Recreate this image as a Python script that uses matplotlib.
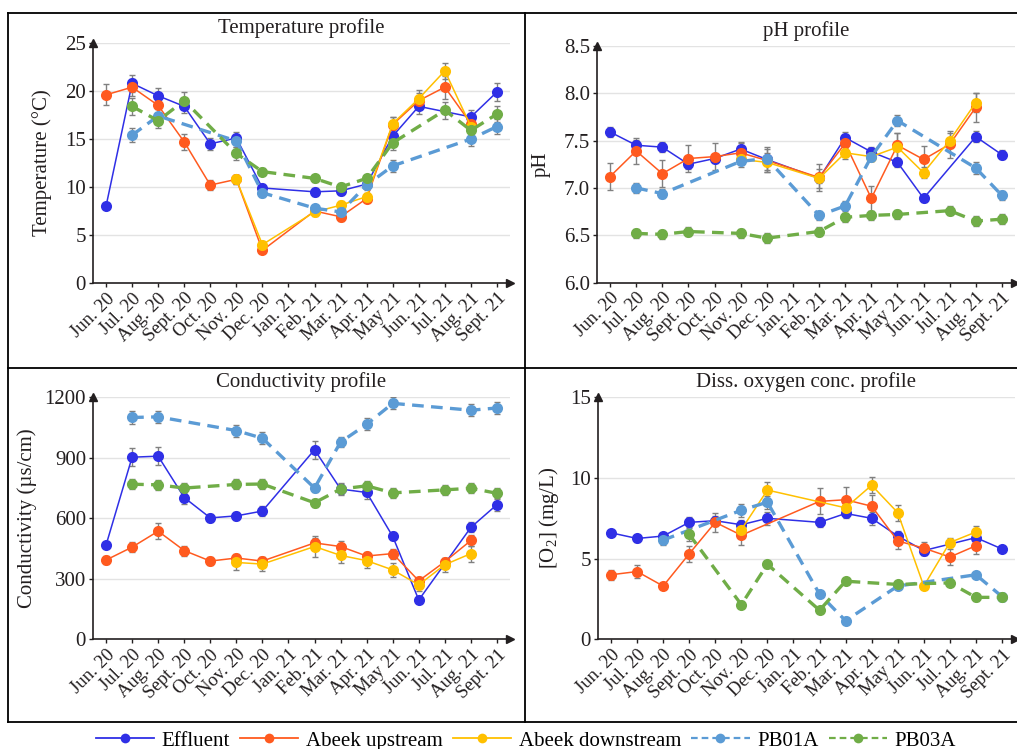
import numpy as np
import matplotlib
matplotlib.use("Agg")
import matplotlib.pyplot as plt
from matplotlib.lines import Line2D

plt.rcParams['font.family'] = ['Liberation Serif', 'DejaVu Serif']
plt.rcParams['mathtext.default'] = 'regular'

nan = np.nan
months = ["Jun. 20", "Jul. 20", "Aug. 20", "Sept. 20", "Oct. 20", "Nov. 20", "Dec. 20", "Jan. 21",
          "Feb. 21", "Mar. 21", "Apr. 21", "May 21", "Jun. 21", "Jul. 21", "Aug. 21", "Sept. 21"]
series_names = ["Effluent", "Abeek upstream", "Abeek downstream", "PB01A", "PB03A"]

# ---------------- Temperature ----------------
temp_eff = [8.0, 20.8, 19.5, 18.4, 14.5, 15.1, 9.9, nan, 9.5, 9.6, 10.3, 15.3, 18.4, nan, 17.3, 19.9]
temp_up = [19.6, 20.4, 18.5, 14.7, 10.2, 10.8, 3.4, nan, 7.5, 6.9, 8.8, 16.5, 19.0, 20.4, 16.6, nan]
temp_down = [nan, nan, nan, nan, nan, 10.8, 4.0, nan, 7.4, 8.1, 9.0, 16.6, 19.2, 22.1, 16.3, nan]
temp_pb01 = [nan, 15.4, 17.4, nan, nan, 14.8, 9.4, nan, 7.8, 7.4, 10.2, 12.2, nan, nan, 15.0, 16.3]
temp_pb03 = [nan, 18.4, 16.9, 19.0, nan, 13.5, 11.6, nan, 10.9, 10.0, 10.9, 14.6, nan, 18.0, 15.9, 17.6]
temp_eff_err = [0.3, 0.9, 0.8, 0.7, 0.6, 0.6, 0.4, nan, 0.4, 0.4, 0.5, 0.9, 0.8, nan, 0.7, 0.9]
temp_up_err = [1.1, 0.9, 0.8, 0.8, 0.5, 0.5, 0.3, nan, 0.4, 0.4, 0.4, 0.8, 0.8, 1.2, 0.8, nan]
temp_down_err = [nan, nan, nan, nan, nan, 0.5, 0.4, nan, 0.4, 0.4, 0.4, 0.7, 0.9, 0.8, 0.7, nan]
temp_pb01_err = [nan, 0.7, 0.7, nan, nan, 0.6, 0.4, nan, 0.3, 0.3, 0.5, 0.6, nan, nan, 0.7, 0.8]
temp_pb03_err = [nan, 0.9, 0.8, 0.9, nan, 0.7, 0.4, nan, 0.4, 0.4, 0.4, 0.7, nan, 0.9, 0.8, 0.8]

# ---------------- pH ----------------
ph_eff = [7.59, 7.45, 7.43, 7.25, 7.31, 7.41, 7.30, nan, 7.10, 7.53, 7.38, 7.27, 6.89, nan, 7.54, 7.35]
ph_up = [7.12, 7.39, 7.15, 7.31, 7.33, 7.37, 7.29, nan, 7.11, 7.47, 6.89, 7.45, 7.30, 7.46, 7.85, nan]
ph_down = [nan, nan, nan, nan, nan, 7.30, 7.27, nan, 7.10, 7.37, 7.33, 7.43, 7.16, 7.50, 7.90, nan]
ph_pb01 = [nan, 7.00, 6.94, nan, nan, 7.28, 7.31, nan, 6.71, 6.81, 7.33, 7.71, nan, nan, 7.21, 6.92]
ph_pb03 = [nan, 6.52, 6.51, 6.54, nan, 6.52, 6.47, nan, 6.54, 6.69, 6.71, 6.72, nan, 6.76, 6.65, 6.67]
ph_eff_err = [0.05, 0.06, 0.05, 0.05, 0.05, 0.07, 0.05, nan, 0.05, 0.06, 0.05, 0.05, 0.04, nan, 0.06, 0.05]
ph_up_err = [0.14, 0.14, 0.14, 0.14, 0.14, 0.10, 0.12, nan, 0.14, 0.06, 0.13, 0.13, 0.14, 0.14, 0.15, nan]
ph_down_err = [nan, nan, nan, nan, nan, 0.05, 0.10, nan, 0.10, 0.06, 0.05, 0.15, 0.06, 0.08, 0.10, nan]
ph_pb01_err = [nan, 0.05, 0.05, nan, nan, 0.06, 0.12, nan, 0.05, 0.05, 0.05, 0.06, nan, nan, 0.06, 0.05]
ph_pb03_err = [nan, 0.05, 0.05, 0.05, nan, 0.05, 0.05, nan, 0.05, 0.05, 0.05, 0.05, nan, 0.05, 0.05, 0.05]

# ---------------- Conductivity ----------------
cond_eff = [467, 903, 908, 703, 602, 612, 636, nan, 940, 745, 728, 510, 195, nan, 555, 668]
cond_up = [393, 457, 536, 440, 388, 403, 388, nan, 478, 460, 413, 425, 290, 385, 490, nan]
cond_down = [nan, nan, nan, nan, nan, 381, 373, nan, 460, 416, 390, 344, 270, 370, 425, nan]
cond_pb01 = [nan, 1100, 1103, nan, nan, 1035, 997, nan, 750, 978, 1066, 1170, nan, nan, 1136, 1147]
cond_pb03 = [nan, 769, 766, 750, nan, 768, 770, nan, 677, 745, 761, 726, nan, 741, 749, 724]
cond_eff_err = [15, 45, 45, 30, 20, 20, 25, nan, 45, 30, 30, 20, 15, nan, 25, 30]
cond_up_err = [20, 25, 40, 25, 20, 20, 20, nan, 25, 25, 20, 25, 20, 20, 25, nan]
cond_down_err = [nan, nan, nan, nan, nan, 35, 35, nan, 50, 40, 35, 35, 30, 35, 40, nan]
cond_pb01_err = [nan, 30, 30, nan, nan, 30, 30, nan, 20, 25, 30, 30, nan, nan, 30, 30]
cond_pb03_err = [nan, 25, 25, 25, nan, 25, 25, nan, 20, 25, 25, 25, nan, 25, 25, 25]

# ---------------- Dissolved oxygen ----------------
do_eff = [6.6, 6.25, 6.4, 7.25, 7.35, 7.1, 7.5, nan, 7.25, 7.8, 7.5, 6.4, 5.5, nan, 6.3, 5.6]
do_up = [4.0, 4.2, 3.3, 5.3, 7.25, 6.45, nan, nan, 8.55, 8.65, 8.25, 6.1, 5.65, 5.1, 5.8, nan]
do_down = [nan, nan, nan, nan, nan, 6.8, 9.25, nan, nan, 8.15, 9.55, 7.85, 3.3, 6.0, 6.65, nan]
do_pb01 = [nan, nan, 6.15, nan, nan, 8.0, 8.5, nan, 2.8, 1.15, nan, 3.3, nan, nan, 4.0, 2.65]
do_pb03 = [nan, nan, nan, 6.5, nan, 2.15, 4.65, nan, 1.8, 3.6, nan, 3.4, nan, 3.5, 2.6, 2.6]
do_eff_err = [0.2, 0.2, 0.2, 0.3, 0.3, 0.3, 0.4, nan, 0.3, 0.3, 0.4, 0.3, 0.3, nan, 0.3, 0.2]
do_up_err = [0.3, 0.4, 0.2, 0.5, 0.6, 0.6, nan, nan, 0.8, 0.8, 0.7, 0.5, 0.4, 0.5, 0.5, nan]
do_down_err = [nan, nan, nan, nan, nan, 0.4, 0.5, nan, nan, 0.5, 0.5, 0.5, 0.2, 0.3, 0.4, nan]
do_pb01_err = [nan, nan, 0.3, nan, nan, 0.4, 0.4, nan, 0.2, 0.2, nan, 0.2, nan, nan, 0.2, 0.2]
do_pb03_err = [nan, nan, nan, 0.4, nan, 0.2, 0.2, nan, 0.2, 0.2, nan, 0.2, nan, 0.2, 0.2, 0.2]

colors = ["#2f2fe6", "#ff5a1f", "#ffc000", "#5b9bd5", "#70ad47"]
dashed = [False, False, False, True, True]

W, H = 1017, 749
fig = plt.figure(figsize=(W / 100, H / 100), dpi=100)

def fx(px):
    return px / W

def fy(py):
    return (H - py) / H

panels = [
    dict(box=(93, 510, 43, 283), title="Temperature profile", ylabel="Temperature (°C)",
         ylim=(0, 25), yticks=[0, 5, 10, 15, 20, 25], fmt="{:.0f}", ylx=-0.098,
         data=[temp_eff, temp_up, temp_down, temp_pb01, temp_pb03],
         err=[temp_eff_err, temp_up_err, temp_down_err, temp_pb01_err, temp_pb03_err]),
    dict(box=(597, 1015, 45.7, 282.7), title="pH profile", ylabel="pH",
         ylim=(6.0, 8.5), yticks=[6.0, 6.5, 7.0, 7.5, 8.0, 8.5], fmt="{:.1f}", ylx=-0.11,
         data=[ph_eff, ph_up, ph_down, ph_pb01, ph_pb03],
         err=[ph_eff_err, ph_up_err, ph_down_err, ph_pb01_err, ph_pb03_err]),
    dict(box=(93, 510, 397.3, 639.3), title="Conductivity profile", ylabel="Conductivity (µs/cm)",
         ylim=(0, 1200), yticks=[0, 300, 600, 900, 1200], fmt="{:.0f}", ylx=-0.134,
         data=[cond_eff, cond_up, cond_down, cond_pb01, cond_pb03],
         err=[cond_eff_err, cond_up_err, cond_down_err, cond_pb01_err, cond_pb03_err]),
    dict(box=(598, 1015, 397.3, 639.3), title="Diss. oxygen conc. profile", ylabel="[O$_2$] (mg/L)",
         ylim=(0, 15), yticks=[0, 5, 10, 15], fmt="{:.0f}", ylx=-0.089,
         data=[do_eff, do_up, do_down, do_pb01, do_pb03],
         err=[do_eff_err, do_up_err, do_down_err, do_pb01_err, do_pb03_err]),
]

x_all = np.arange(len(months))
axis_col = "#231f20"

for p in panels:
    l, r, t, b = p["box"]
    ax = fig.add_axes([fx(l), fy(b), fx(r) - fx(l), fy(t) - fy(b)])
    ax.set_xlim(-0.5, 15.5)
    ax.set_ylim(*p["ylim"])
    ax.set_yticks(p["yticks"])
    ax.set_yticklabels([p["fmt"].format(v) for v in p["yticks"]], fontsize=15, color=axis_col)
    ax.set_xticks(x_all)
    ax.set_xticklabels(months, rotation=45, ha="right", rotation_mode="anchor",
                       fontsize=13.5, color=axis_col)
    ax.tick_params(axis="both", direction="out", length=3, width=1, color=axis_col, pad=2)
    for s in ["top", "right"]:
        ax.spines[s].set_visible(False)
    for s in ["left", "bottom"]:
        ax.spines[s].set_color(axis_col)
        ax.spines[s].set_linewidth(1.2)
    for yv in p["yticks"][1:]:
        ax.axhline(yv, color="#e3e3e3", lw=1.0, zorder=0)
    # arrows
    ax.plot([0], [1.0], marker="^", color=axis_col, markersize=6, transform=ax.transAxes,
            clip_on=False, zorder=5)
    ax.plot([1.0], [0], marker=">", color=axis_col, markersize=6, transform=ax.transAxes,
            clip_on=False, zorder=5)
    ax.text(0.5, 1.062, p["title"], transform=ax.transAxes, ha="center", va="center",
            fontsize=15, color=axis_col)
    ax.set_ylabel(p["ylabel"], fontsize=15, color=axis_col)
    ax.yaxis.set_label_coords(p["ylx"], 0.5)

    for i, (vals, errs) in enumerate(zip(p["data"], p["err"])):
        v = np.array(vals, dtype=float)
        e = np.array(errs, dtype=float)
        m = ~np.isnan(v)
        ls = (0, (3.5, 2.2)) if dashed[i] else "-"
        lw = 2.4 if dashed[i] else 1.1
        ax.errorbar(x_all[m], v[m], yerr=np.nan_to_num(e[m]), fmt="none", ecolor="#808080",
                    elinewidth=1.0, capsize=2.5, capthick=1.0, zorder=2 + i * 0.1)
        ax.plot(x_all[m], v[m], color=colors[i], linestyle=ls, lw=lw, marker="o",
                markersize=8, markeredgewidth=0, zorder=3 + i * 0.1, clip_on=False)

# panel frame lines
frame_lw = 1.3
fr = [((8, 12.5), (1017, 12.5)), ((8, 367.5), (1017, 367.5)), ((8, 721.5), (1017, 721.5)),
      ((8, 12.5), (8, 721.5)), ((525, 12.5), (525, 721.5))]
for (x0, y0), (x1, y1) in fr:
    fig.add_artist(Line2D([fx(x0), fx(x1)], [fy(y0), fy(y1)], color="black", lw=frame_lw,
                          transform=fig.transFigure))

handles = []
for i, name in enumerate(series_names):
    ls = (0, (3.0, 1.8)) if dashed[i] else "-"
    lw = 1.6 if dashed[i] else 1.3
    handles.append(Line2D([], [], color=colors[i], linestyle=ls, lw=lw, marker="o",
                          markersize=7, markeredgewidth=0, label=name))
fig.legend(handles=handles, loc="center", bbox_to_anchor=(0.517, 0.011), ncol=5, frameon=False,
           fontsize=15, handlelength=2.8, columnspacing=0.5, handletextpad=0.35,
           borderpad=0.1, borderaxespad=0)

fig.savefig("out.png", dpi=100)
